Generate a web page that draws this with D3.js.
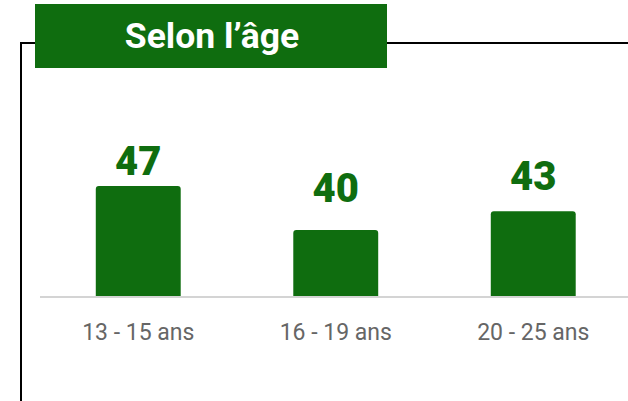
<!DOCTYPE html>
<html>
<head>
<meta charset="utf-8">
<script src="https://cdn.jsdelivr.net/npm/d3@7"></script>
<style>
  body { margin: 0; background: #fff; }
  svg { display: block; }
</style>
</head>
<body>
<svg width="628" height="401"></svg>
<script>
// data
const categories = ["13 - 15 ans", "16 - 19 ans", "20 - 25 ans"];
const values = [47, 40, 43];
const title = "Selon l\u2019âge";

const green = "#0f6d0f";
const svg = d3.select("svg");

// frame lines
svg.append("path")
  .attr("d", "M21,401 V43 H36 M386,43 H628")
  .attr("fill", "none").attr("stroke", "#000").attr("stroke-width", 2);

// title box
svg.append("rect").attr("x", 35).attr("y", 4).attr("width", 352).attr("height", 64).attr("fill", green);
svg.append("text").attr("x", 212).attr("y", 48)
  .attr("text-anchor", "middle")
  .style("font-family", "Roboto").style("font-weight", "bold").style("font-size", "35.5px")
  .attr("fill", "#fff").text(title);

// scales
const x = d3.scaleBand().domain(categories).range([39.5, 632]).paddingInner(0.57).paddingOuter(0.285);
const y = d3.scaleLinear().domain([29.5, 47]).range([296, 186]);
// value labels sit a bit differently from bar tops in the original
const yLabel = d3.scaleLinear().domain([40, 47]).range([202, 175]);

// bars: rounded top only
svg.append("g").selectAll("path").data(values).enter().append("path")
  .attr("fill", green)
  .attr("d", function(d, i) {
    let x0 = x(categories[i]), w = x.bandwidth(), y0 = y(d), b = y.range()[0], r = 3;
    return "M" + x0 + "," + b + "V" + (y0 + r) + "Q" + x0 + "," + y0 + " " + (x0 + r) + "," + y0 +
      "H" + (x0 + w - r) + "Q" + (x0 + w) + "," + y0 + " " + (x0 + w) + "," + (y0 + r) + "V" + b + "Z";
  });

// baseline
svg.append("line").attr("x1", 40).attr("x2", 628).attr("y1", 297).attr("y2", 297)
  .attr("stroke", "#d4d4d4").attr("stroke-width", 2);

// value labels
svg.append("g").selectAll("text").data(values).enter().append("text")
  .attr("x", function(d, i) { return x(categories[i]) + x.bandwidth() / 2; })
  .attr("y", function(d) { return yLabel(d); })
  .attr("text-anchor", "middle")
  .style("font-family", "Roboto").style("font-weight", "900").style("font-size", "40px")
  .attr("fill", green).text(function(d) { return d; });

// category labels via axis
const ax = svg.append("g").attr("transform", "translate(0,340)")
  .call(d3.axisBottom(x).tickSize(0).tickPadding(0));
ax.select(".domain").remove();
ax.selectAll("text")
  .attr("dy", 0)
  .style("font-family", "Roboto").style("font-weight", "normal").style("font-size", "23px")
  .attr("fill", "#666");
</script>
</body>
</html>
